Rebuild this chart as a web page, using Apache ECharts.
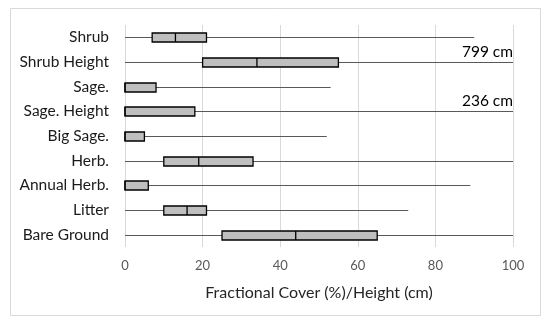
<!DOCTYPE html>
<html>
<head>
<meta charset="UTF-8">
<title>Boxplot</title>
<script src="https://cdn.jsdelivr.net/npm/echarts@6/dist/echarts.min.js"></script>
<style>
html, body {margin: 0; padding: 0; background: #fff;}
#chart {width: 550px; height: 324px;}
</style>
</head>
<body>
<div id="chart"></div>
<script>
// categories top to bottom
var categories = ['Shrub', 'Shrub Height', 'Sage.', 'Sage. Height', 'Big Sage.', 'Herb.', 'Annual Herb.', 'Litter', 'Bare Ground'];
// min, q1, median, q3, max (axis clipped at 100)
var minVals    = [0, 0, 0, 0, 0, 0, 0, 0, 0];
var q1Vals     = [7, 20, 0, 0, 0, 10, 0, 10, 25];
var medianVals = [13, 34, 0, 0, 0, 19, 0, 16, 44];
var q3Vals     = [21, 55, 8, 18, 5, 33, 6, 21, 65];
var maxVals    = [90, 100, 53, 100, 52, 100, 89, 73, 100];
// true maximum shown as text where the whisker runs off the axis
var maxNotes   = ['', '799 cm', '', '236 cm', '', '', '', '', ''];

var font = 'Lato, "Liberation Sans", sans-serif';

var data = categories.map(function (c, i) {
    return [i, minVals[i], q1Vals[i], medianVals[i], q3Vals[i], maxVals[i]];
});

var chart = echarts.init(document.getElementById('chart'), null, {renderer: 'canvas'});

var option = {
    backgroundColor: '#fff',
    animation: false,
    graphic: [{
        type: 'rect',
        shape: {x: 10.5, y: 8.5, width: 530, height: 307},
        style: {fill: 'none', stroke: '#d9d9d9', lineWidth: 1},
        silent: true
    }],
    grid: {left: 125, right: 37, top: 25, bottom: 77},
    xAxis: {
        type: 'value',
        min: 0,
        max: 100,
        interval: 20,
        name: 'Fractional Cover (%)/Height (cm)',
        nameLocation: 'middle',
        nameGap: 38,
        nameTextStyle: {fontFamily: font, fontSize: 16, color: '#262626'},
        axisLine: {show: false},
        axisTick: {show: false},
        axisLabel: {fontFamily: font, fontSize: 13, color: '#595959', margin: 12},
        splitLine: {show: true, lineStyle: {color: '#d9d9d9', width: 1}}
    },
    yAxis: {
        type: 'category',
        data: categories,
        inverse: true,
        axisLine: {show: false},
        axisTick: {show: false},
        splitLine: {show: false},
        axisLabel: {fontFamily: font, fontSize: 15.5, color: '#1a1a1a', margin: 16}
    },
    series: [{
        type: 'custom',
        data: data,
        encode: {y: 0, x: [1, 2, 3, 4, 5]},
        renderItem: function (params, api) {
            var idx = api.value(0);
            var pMin = api.coord([api.value(1), idx]);
            var pQ1 = api.coord([api.value(2), idx]);
            var pMed = api.coord([api.value(3), idx]);
            var pQ3 = api.coord([api.value(4), idx]);
            var pMax = api.coord([api.value(5), idx]);
            var y = Math.round(pMin[1]) + 0.5;
            var h = 9;
            var children = [
                {
                    type: 'line',
                    shape: {x1: pMin[0], y1: y, x2: pMax[0], y2: y},
                    style: {stroke: '#595959', lineWidth: 1}
                },
                {
                    type: 'rect',
                    shape: {x: pQ1[0], y: y - h / 2, width: Math.max(pQ3[0] - pQ1[0], 0), height: h},
                    style: {fill: '#bfbfbf', stroke: '#000', lineWidth: 1.3}
                },
                {
                    type: 'line',
                    shape: {x1: pMed[0], y1: y - h / 2, x2: pMed[0], y2: y + h / 2},
                    style: {stroke: '#000', lineWidth: 1.3}
                }
            ];
            var note = maxNotes[params.dataIndex];
            if (note) {
                children.push({
                    type: 'text',
                    x: pMax[0],
                    y: y - 3,
                    style: {
                        text: note,
                        align: 'right',
                        verticalAlign: 'bottom',
                        fontFamily: font,
                        fontSize: 15.5,
                        fill: '#000'
                    }
                });
            }
            return {type: 'group', children: children};
        }
    }]
};

chart.setOption(option);
</script>
</body>
</html>
